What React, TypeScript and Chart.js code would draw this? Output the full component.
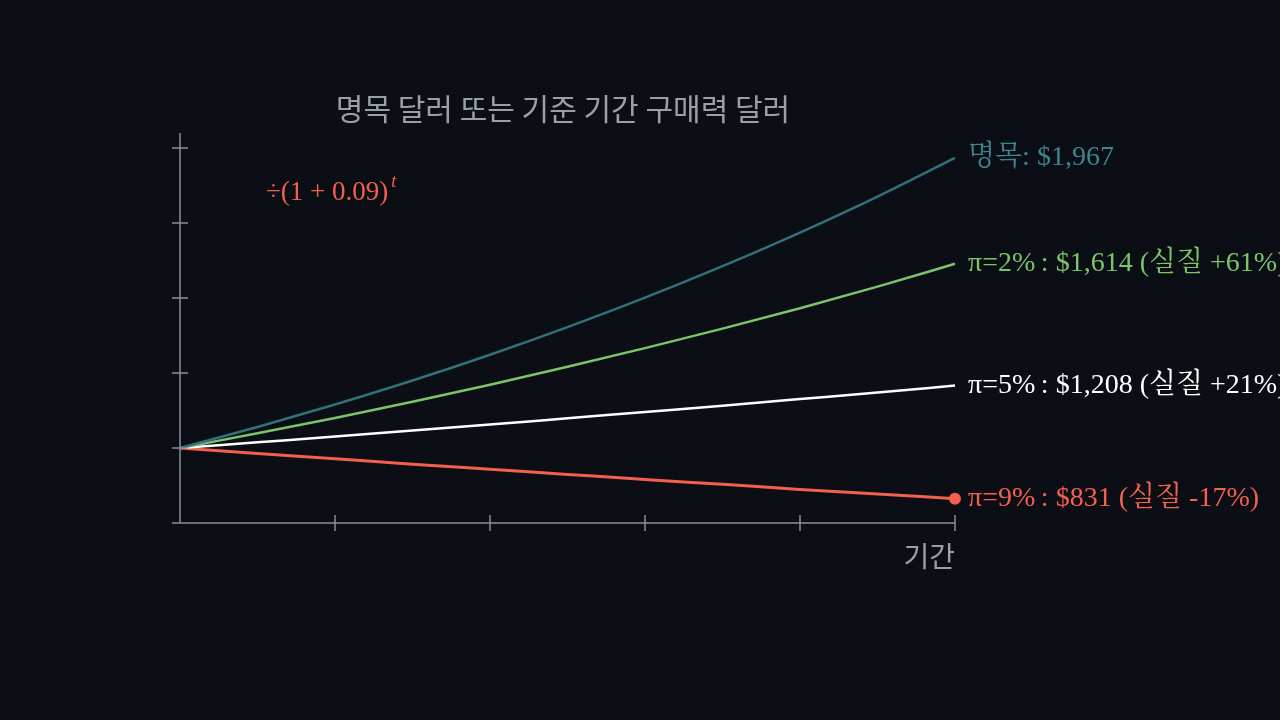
import { useEffect, useRef } from 'react';
import { Chart, registerables, ChartConfiguration, Plugin } from 'chart.js';

Chart.register(...registerables);

// periods 0..10
const periods = [0, 1, 2, 3, 4, 5, 6, 7, 8, 9, 10];

// dollar values per period
const nominal = [1000, 1070, 1145, 1225, 1311, 1403, 1501, 1606, 1718, 1838, 1967];
const real2 = [1000, 1049, 1100, 1154, 1211, 1271, 1333, 1398, 1466, 1538, 1614];
const real5 = [1000, 1019, 1038, 1058, 1078, 1099, 1120, 1141, 1163, 1185, 1208];
const real9 = [1000, 982, 964, 946, 929, 912, 895, 879, 862, 847, 831];

const seriesLabels = [
  '명목: $1,967',
  'π=2%\u2009: $1,614 (실질 +61%)',
  'π=5%\u2009: $1,208 (실질 +21%)',
  'π=9%\u2009: $831 (실질 -17%)',
];
const seriesColors = ['#33707d', '#7cc46a', '#ffffff', '#f4604e'];
const labelColors = ['#3f8394', '#7cc46a', '#ffffff', '#f4604e'];

const xTicks = [2, 4, 6, 8, 10];
const yTicks = [1000, 1250, 1500, 1750, 2000];

const titleText = '명목 달러 또는 기준 기간 구매력 달러';
const xAxisTitle = '기간';

const BG = '#0b0e14';
const AXIS = '#8a8f98';
const SERIF = '"Liberation Serif", "Noto Serif CJK KR", "Noto Sans CJK KR", serif';
const SANS = '"Noto Sans CJK KR", "Noto Sans", sans-serif';

const decorPlugin: Plugin<'line'> = {
  id: 'decor',
  beforeDraw(chart) {
    const { ctx } = chart;
    ctx.save();
    ctx.fillStyle = BG;
    ctx.fillRect(0, 0, chart.width, chart.height);
    ctx.restore();
  },
  afterDatasetsDraw(chart) {
    const { ctx, chartArea } = chart;
    const xs = chart.scales.x;
    const ys = chart.scales.y;
    const x0 = xs.getPixelForValue(0);
    const y0 = ys.getPixelForValue(ys.min);
    ctx.save();
    ctx.strokeStyle = AXIS;
    ctx.lineWidth = 1.5;
    // axes
    ctx.beginPath();
    ctx.moveTo(x0, chartArea.top);
    ctx.lineTo(x0, y0);
    ctx.moveTo(x0 - 8, y0);
    ctx.lineTo(xs.getPixelForValue(10), y0);
    // y ticks
    yTicks.forEach((v) => {
      const py = ys.getPixelForValue(v);
      ctx.moveTo(x0 - 8, py);
      ctx.lineTo(x0 + 8, py);
    });
    // x ticks
    xTicks.forEach((v) => {
      const px = xs.getPixelForValue(v);
      ctx.moveTo(px, y0 - 8);
      ctx.lineTo(px, y0 + 8);
    });
    ctx.stroke();

    // end labels
    ctx.textBaseline = 'middle';
    ctx.textAlign = 'left';
    ctx.font = `28px ${SERIF}`;
    chart.data.datasets.forEach((ds, i) => {
      const meta = chart.getDatasetMeta(i);
      const last = meta.data[meta.data.length - 1];
      ctx.fillStyle = labelColors[i];
      ctx.fillText(seriesLabels[i], last.x + 13, last.y);
    });

    // title
    ctx.fillStyle = '#9aa0a8';
    ctx.font = `30px ${SANS}`;
    ctx.textAlign = 'center';
    ctx.fillText(titleText, 563, 109);

    // x axis title
    ctx.font = `28px ${SANS}`;
    ctx.textAlign = 'right';
    ctx.fillText(xAxisTitle, xs.getPixelForValue(10), 556);

    // deflator annotation
    ctx.fillStyle = '#f4604e';
    ctx.textAlign = 'left';
    ctx.font = `27px ${SERIF}`;
    const ann = '÷(1 + 0.09)';
    ctx.fillText(ann, 266, 193);
    const w = ctx.measureText(ann).width;
    ctx.font = `italic 18px ${SERIF}`;
    ctx.fillText('t', 266 + w + 3, 182);
    ctx.restore();
  },
};

export default function App() {
  const canvasRef = useRef<HTMLCanvasElement>(null);
  const chartRef = useRef<Chart | null>(null);

  useEffect(() => {
    document.body.style.margin = '0';
    document.body.style.background = BG;
    if (!canvasRef.current) return;
    if (chartRef.current) chartRef.current.destroy();
    const ctx = canvasRef.current.getContext('2d');
    if (!ctx) return;

    const all = [nominal, real2, real5, real9];

    chartRef.current = new Chart(ctx, {
      type: 'line',
      data: {
        labels: periods,
        datasets: all.map((vals, i) => ({
          label: seriesLabels[i],
          data: vals.map((v, j) => ({ x: periods[j], y: v })),
          borderColor: seriesColors[i],
          backgroundColor: seriesColors[i],
          borderWidth: i === 3 ? 3 : 2.5,
          cubicInterpolationMode: 'monotone',
          pointRadius: vals.map((_, j) => (i === 3 && j === vals.length - 1 ? 6 : 0)),
          pointBorderWidth: 0,
          clip: false,
        })),
      },
      options: {
        responsive: false,
        animation: false,
        devicePixelRatio: 1,
        layout: { padding: { left: 180, right: 325, top: 133, bottom: 197 } },
        plugins: {
          legend: { display: false },
          tooltip: { enabled: false },
          title: { display: false },
        },
        scales: {
          x: {
            type: 'linear',
            min: 0,
            max: 10,
            display: false,
          },
          y: {
            type: 'linear',
            min: 750,
            max: 2050,
            display: false,
          },
        },
      },
      plugins: [decorPlugin],
    } as ChartConfiguration);

    return () => {
      if (chartRef.current) {
        chartRef.current.destroy();
        chartRef.current = null;
      }
    };
  }, []);

  return (
    <div style={{ width: 1280, height: 720, background: BG }}>
      <canvas ref={canvasRef} width={1280} height={720} style={{ display: 'block' }} />
    </div>
  );
}
